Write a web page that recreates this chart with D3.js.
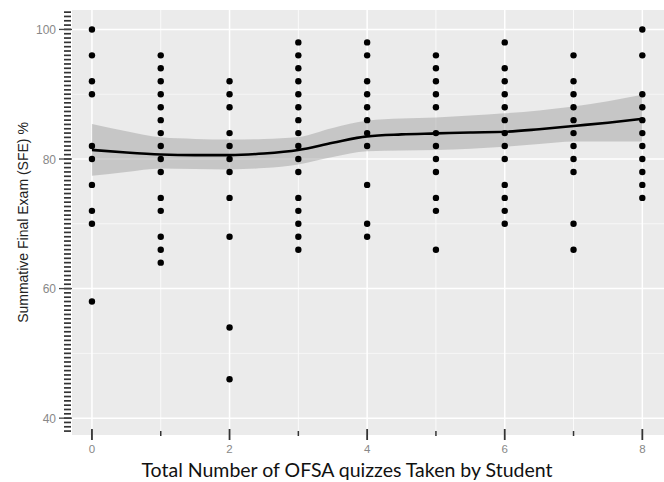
<!DOCTYPE html>
<html>
<head>
<meta charset="utf-8">
<title>SFE vs OFSA quizzes</title>
<script src="https://cdn.jsdelivr.net/npm/d3@7"></script>
<style>
  body{margin:0;background:#fff;}
  svg{display:block;}
</style>
</head>
<body>
<div id="chart"></div>
<script>
// scores per number of quizzes taken (0..8)
var quizCounts = [0, 1, 2, 3, 4, 5, 6, 7, 8];
var scores0 = [100, 96, 92, 90, 82, 80, 76, 72, 70, 58];
var scores1 = [96, 94, 92, 90, 88, 86, 84, 82, 80, 78, 74, 72, 68, 66, 64];
var scores2 = [92, 90, 88, 84, 82, 80, 78, 74, 68, 54, 46];
var scores3 = [98, 96, 94, 92, 90, 88, 86, 84, 82, 80, 78, 74, 72, 70, 68, 66];
var scores4 = [98, 96, 92, 90, 88, 86, 84, 82, 76, 70, 68];
var scores5 = [96, 94, 92, 90, 88, 84, 82, 80, 78, 74, 72, 66];
var scores6 = [98, 94, 92, 90, 88, 86, 84, 82, 80, 76, 74, 72, 70];
var scores7 = [96, 92, 90, 88, 86, 84, 82, 80, 78, 70, 66];
var scores8 = [100, 96, 90, 88, 86, 84, 82, 80, 78, 76, 74];
var allScores = [scores0, scores1, scores2, scores3, scores4, scores5, scores6, scores7, scores8];

// loess fit
var fitX     = [0, 0.5, 1, 1.5, 2, 2.5, 3, 3.5, 4, 4.5, 5, 5.5, 6, 6.5, 7, 7.5, 8];
var fitY     = [81.4, 81.0, 80.7, 80.6, 80.6, 80.85, 81.4, 82.5, 83.5, 83.8, 83.95, 84.1, 84.2, 84.6, 85.1, 85.6, 86.2];
var fitUpper = [85.4, 84.3, 83.35, 83.1, 83.0, 83.1, 83.4, 84.8, 85.9, 86.25, 86.4, 86.7, 87.05, 87.5, 88.1, 88.9, 89.9];
var fitLower = [77.4, 78.0, 78.55, 78.45, 78.4, 78.6, 79.15, 80.3, 81.2, 81.3, 81.4, 81.6, 81.9, 82.3, 82.7, 82.7, 82.7];

var xTicks = [0, 2, 4, 6, 8];
var xMinor = [1, 3, 5, 7];
var yTicks = [40, 60, 80, 100];
var yMinor = [50, 70, 90];

var width = 664, height = 482;
var margin = {top: 10, right: 0, bottom: 47, left: 72};

var svg = d3.select("#chart").append("svg")
  .attr("width", width)
  .attr("height", height);

var x = d3.scaleLinear().domain([-0.29, 8.315]).range([margin.left, width - margin.right]);
var y = d3.scaleLinear().domain([37.4, 103.0]).range([height - margin.bottom, margin.top]);

// panel
svg.append("rect")
  .attr("x", margin.left).attr("y", margin.top)
  .attr("width", width - margin.left - margin.right)
  .attr("height", height - margin.top - margin.bottom)
  .attr("fill", "#ebebeb");

// grid
var grid = svg.append("g");
grid.selectAll(".ymin").data(yMinor).enter().append("line")
  .attr("x1", margin.left).attr("x2", width - margin.right)
  .attr("y1", y).attr("y2", y)
  .attr("stroke", "#fafafa").attr("stroke-width", 0.8);
grid.selectAll(".xmin").data(xMinor).enter().append("line")
  .attr("y1", margin.top).attr("y2", height - margin.bottom)
  .attr("x1", x).attr("x2", x)
  .attr("stroke", "#fafafa").attr("stroke-width", 1);
grid.selectAll(".ymaj").data(yTicks).enter().append("line")
  .attr("x1", margin.left).attr("x2", width - margin.right)
  .attr("y1", y).attr("y2", y)
  .attr("stroke", "#fff").attr("stroke-width", 1.5);
grid.selectAll(".xmaj").data(xTicks).enter().append("line")
  .attr("y1", margin.top).attr("y2", height - margin.bottom)
  .attr("x1", x).attr("x2", x)
  .attr("stroke", "#fff").attr("stroke-width", 1.5);

// confidence band + smooth line
var fitData = fitX.map(function(d, i){ return {x: d, y: fitY[i], lo: fitLower[i], hi: fitUpper[i]}; });
var area = d3.area()
  .x(function(d){ return x(d.x); })
  .y0(function(d){ return y(d.lo); })
  .y1(function(d){ return y(d.hi); })
  .curve(d3.curveMonotoneX);
svg.append("path").datum(fitData)
  .attr("d", area)
  .attr("fill", "#999").attr("fill-opacity", 0.45);

// points
var points = [];
allScores.forEach(function(col, i){
  col.forEach(function(s){ points.push({q: quizCounts[i], s: s}); });
});
svg.selectAll(".dot").data(points).enter().append("circle")
  .attr("cx", function(d){ return x(d.q); })
  .attr("cy", function(d){ return y(d.s); })
  .attr("r", 3.2)
  .attr("fill", "#000");

var line = d3.line()
  .x(function(d){ return x(d.x); })
  .y(function(d){ return y(d.y); })
  .curve(d3.curveMonotoneX);
svg.append("path").datum(fitData)
  .attr("d", line)
  .attr("fill", "none").attr("stroke", "#000").attr("stroke-width", 2.6);

// y axis: dense dashes along the left edge plus major ticks
var dashes = d3.range(102.67, 37.5, -2 / 3);
svg.selectAll(".dash").data(dashes).enter().append("line")
  .attr("x1", 64).attr("x2", 71)
  .attr("y1", y).attr("y2", y)
  .attr("stroke", "#333").attr("stroke-width", 1.7);
svg.selectAll(".ytick").data(yTicks).enter().append("line")
  .attr("x1", 59).attr("x2", 72)
  .attr("y1", y).attr("y2", y)
  .attr("stroke", "#444").attr("stroke-width", 1.3);
svg.selectAll(".ylab").data(yTicks).enter().append("text")
  .attr("x", 56).attr("y", function(d){ return y(d) + 4.5; })
  .attr("text-anchor", "end")
  .style("font-family", "'Liberation Sans', Arial, sans-serif")
  .style("font-size", "12px")
  .attr("fill", "#888")
  .text(function(d){ return d; });

// x axis: rug-like ticks at the panel bottom
var base = height - margin.bottom;
svg.selectAll(".xminor").data(xMinor).enter().append("line")
  .attr("x1", x).attr("x2", x)
  .attr("y1", base - 4).attr("y2", base + 1)
  .attr("stroke", "#333").attr("stroke-width", 1.5);
svg.selectAll(".xtick").data(xTicks).enter().append("line")
  .attr("x1", x).attr("x2", x)
  .attr("y1", base - 6).attr("y2", base + 5)
  .attr("stroke", "#333").attr("stroke-width", 1.8);
svg.selectAll(".xlab").data(xTicks).enter().append("text")
  .attr("x", x).attr("y", base + 18)
  .attr("text-anchor", "middle")
  .style("font-family", "'Liberation Sans', Arial, sans-serif")
  .style("font-size", "11.5px")
  .attr("fill", "#888")
  .text(function(d){ return d; });

// titles
svg.append("text")
  .attr("transform", "translate(28," + ((margin.top + base) / 2) + ") rotate(-90)")
  .attr("text-anchor", "middle")
  .style("font-family", "'Liberation Sans', Arial, sans-serif")
  .style("font-size", "14px")
  .attr("fill", "#222")
  .text("Summative Final Exam (SFE) %");
svg.append("text")
  .attr("x", 347).attr("y", 477)
  .attr("text-anchor", "middle")
  .style("font-family", "Lato, 'Open Sans', sans-serif")
  .style("font-size", "19.5px")
  .attr("fill", "#111")
  .text("Total Number of OFSA quizzes Taken by Student");
</script>
</body>
</html>
